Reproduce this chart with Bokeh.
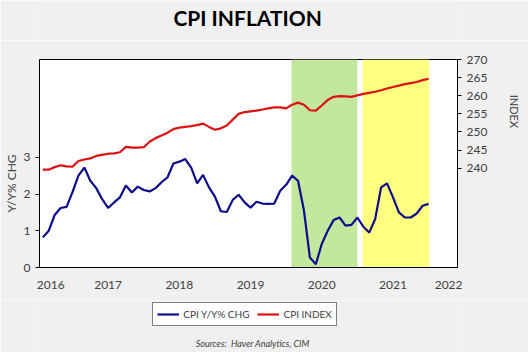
from bokeh.plotting import figure
from bokeh.layouts import column
from bokeh.models import (Range1d, LinearAxis, FixedTicker, BoxAnnotation, Legend,
                          LegendItem, Label)
from bokeh.embed import file_html
from bokeh.resources import INLINE

# ---------------- data ----------------
start_year = 2016
year_labels = ["2016", "2017", "2018", "2019", "2020", "2021", "2022"]

# CPI year-over-year % change (monthly, left axis)
yoy = [0.82, 1.00, 1.43, 1.62, 1.65, 2.05, 2.50, 2.72, 2.36, 2.16, 1.86, 1.62,
       1.77, 1.91, 2.23, 2.04, 2.20, 2.11, 2.07, 2.16, 2.32, 2.45, 2.83, 2.88,
       2.95, 2.72, 2.29, 2.52, 2.18, 1.93, 1.53, 1.51, 1.84, 1.98, 1.77, 1.63,
       1.79, 1.74, 1.73, 1.74, 2.09, 2.25, 2.50, 2.36, 1.55, 0.27, 0.09, 0.64,
       1.00, 1.29, 1.36, 1.14, 1.16, 1.36, 1.11, 0.95, 1.32, 2.18, 2.29, 1.91,
       1.50, 1.36, 1.36, 1.47, 1.68, 1.73]

# CPI index level (monthly, right axis)
cpi_index = [239.6, 239.6, 240.3, 240.8, 240.5, 240.4, 242.0, 242.4, 242.7, 243.4, 243.7, 244.0,
             244.1, 244.4, 245.9, 245.7, 245.7, 245.8, 247.3, 248.3, 249.0, 249.8, 250.8, 251.2,
             251.4, 251.6, 251.9, 252.3, 251.4, 250.6, 251.0, 251.8, 253.4, 255.0, 255.5, 255.7,
             255.9, 256.2, 256.5, 256.8, 256.8, 256.5, 257.5, 258.1, 257.5, 256.0, 255.9, 257.3,
             258.8, 259.7, 259.9, 259.8, 259.7, 260.1, 260.5, 260.8, 261.1, 261.5, 262.0, 262.4,
             262.8, 263.2, 263.5, 263.8, 264.3, 264.7]

# shaded periods, in months since Jan 2016
green_period = (42.9, 54.0)
yellow_period = (54.9, 66.1)

left_ticks = [0, 1, 2, 3]
right_ticks = [240, 245, 250, 255, 260, 265, 270]

chart_title = "CPI INFLATION"
series_names = ["CPI Y/Y% CHG", "CPI INDEX"]
source_text = "Sources:\u00a0 Haver Analytics, CIM"

# monthly points at month end
months = [i + 1 for i in range(len(yoy))]

# ---------------- styling ----------------
X_LO, X_HI = 0.44, 70.87
FONT = "Lato"
TXT = "#404040"
BG = "#f0f0f0"
BLUE = "#0c0c8c"
RED = "#dd1111"
NB = "\u00a0"
FRAME_L, FRAME_R = 38.7, 457.0   # page pixel span of the plot frame (strips align to it)


def strip(height):
    f = figure(width=528, height=height, output_backend="svg", toolbar_location=None,
               title=None, x_range=Range1d(FRAME_L, FRAME_R), y_range=Range1d(0, height),
               x_axis_location=None, y_axis_location=None,
               min_border=0, background_fill_color=BG, border_fill_color=BG,
               outline_line_color=None)
    f.grid.visible = False
    return f


# ---------------- title strip ----------------
t = strip(40)
t.add_layout(Label(x=247, y=23, text=chart_title, text_align="center",
                   text_baseline="middle", text_font=FONT, text_font_size="21px",
                   text_font_style="bold", text_color="black"))

# ---------------- main chart ----------------
p = figure(width=528, height=260, output_backend="svg", toolbar_location=None, title=None,
           x_range=Range1d(X_LO, X_HI), y_range=Range1d(0, 5.66),
           min_border_left=39, min_border_right=71, min_border_top=19, min_border_bottom=33,
           background_fill_color="white", border_fill_color=BG,
           outline_line_color="black", outline_line_width=1)
p.extra_y_ranges = {"idx": Range1d(212.6, 270)}
p.grid.visible = False

p.add_layout(BoxAnnotation(left=green_period[0], right=green_period[1],
                           fill_color="#c4e79e", fill_alpha=1, line_alpha=0, level="underlay"))
p.add_layout(BoxAnnotation(left=yellow_period[0], right=yellow_period[1],
                           fill_color="#ffff80", fill_alpha=1, line_alpha=0, level="underlay"))

p.line(months, yoy, line_color=BLUE, line_width=2.2)
p.line(months, cpi_index, line_color=RED, line_width=2.2, y_range_name="idx")

# x axis
year_pos = [12 * (int(y) - start_year) for y in year_labels]
year_pos = [min(max(t_, X_LO + 1.9), X_HI - 1.5) for t_ in year_pos]
xa = p.xaxis[0]
xa.ticker = FixedTicker(ticks=year_pos)
xa.major_label_overrides = {t_: lab for t_, lab in zip(year_pos, year_labels)}
xa.major_tick_line_color = None
xa.minor_tick_line_color = None
xa.axis_line_color = "black"
xa.major_label_standoff = 7
xa.major_label_text_font = FONT
xa.major_label_text_font_size = "12px"
xa.major_label_text_color = TXT

# left axis
ya = p.yaxis[0]
ya.ticker = FixedTicker(ticks=left_ticks)
ya.minor_tick_line_color = None
ya.major_tick_in = 0
ya.major_tick_out = 4
ya.major_tick_line_color = "black"
ya.axis_line_color = "black"
ya.major_label_standoff = 5
ya.major_label_text_font = FONT
ya.major_label_text_font_size = "12px"
ya.major_label_text_color = TXT
ya.axis_label = "Y/Y% CHG" + NB * 13
ya.axis_label_standoff = 2
ya.axis_label_text_font = FONT
ya.axis_label_text_font_size = "12px"
ya.axis_label_text_font_style = "normal"
ya.axis_label_text_color = TXT

# right axis
ra = LinearAxis(y_range_name="idx", ticker=FixedTicker(ticks=right_ticks))
ra.minor_tick_line_color = None
ra.major_tick_in = 0
ra.major_tick_out = 4
ra.axis_line_color = "black"
ra.major_label_standoff = 5
ra.major_label_text_font = FONT
ra.major_label_text_font_size = "12px"
ra.major_label_text_color = TXT
ra.axis_label = "INDEX" + NB * 37
ra.axis_label_standoff = 18
ra.axis_label_text_font = FONT
ra.axis_label_text_font_size = "11px"
ra.axis_label_text_font_style = "normal"
ra.axis_label_text_color = TXT
p.add_layout(ra, "right")

# ---------------- legend + source strip ----------------
q = strip(52)
nan = float("nan")
k_yoy = q.line([FRAME_L], [nan], line_color=BLUE, line_width=2.2)
k_idx = q.line([FRAME_L], [nan], line_color=RED, line_width=2.2)

legend = Legend(items=[LegendItem(label=series_names[0], renderers=[k_yoy]),
                       LegendItem(label=series_names[1], renderers=[k_idx])],
                orientation="horizontal", location=(152 - FRAME_L, 26),
                border_line_color="black", border_line_width=1,
                background_fill_color="white", background_fill_alpha=1,
                label_text_font=FONT, label_text_font_size="10px", label_text_color=TXT,
                glyph_width=22, glyph_height=14, label_standoff=4, spacing=8,
                padding=4, margin=0)
q.add_layout(legend, "center")

q.add_layout(Label(x=252, y=9, text=source_text, text_align="center",
                   text_baseline="middle", text_font=FONT, text_font_size="9px",
                   text_font_style="italic", text_color=TXT))

open("out.html", "w").write(file_html(column(t, p, q, spacing=0), INLINE))
